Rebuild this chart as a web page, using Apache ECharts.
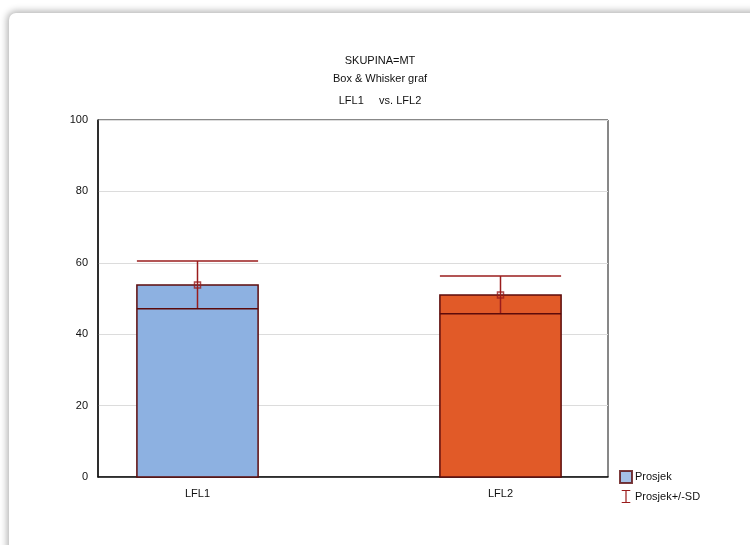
<!DOCTYPE html>
<html>
<head>
<meta charset="utf-8">
<script src="https://cdn.jsdelivr.net/npm/echarts@6/dist/echarts.min.js"></script>
<style>
html,body{margin:0;padding:0;background:#fff;width:750px;height:545px;overflow:hidden;}
#frame{position:absolute;left:9px;top:13px;width:820px;height:620px;background:#fff;border-radius:7px;box-shadow:0 0 7px 2px rgba(0,0,0,0.3);}
#chart{position:absolute;left:0;top:0;width:750px;height:545px;}
</style>
</head>
<body>
<div id="frame"></div>
<div id="chart"></div>
<script>
// ---- data ----
const categories = ['LFL1', 'LFL2'];
const means = [53.8, 51.0];
const sds = [6.7, 5.3];
const barColors = ['#8DB1E1', '#E15A28'];
const titleLines = ['SKUPINA=MT', 'Box & Whisker graf', 'LFL1     vs. LFL2'];
const legendNames = ['Prosjek', 'Prosjek+/-SD'];
const yMin = 0, yMax = 100, yStep = 20;

const positions = categories.map((c, i) => i + 1);
const BAR_UNITS = 0.4;
const FONT = 'Liberation Sans, Arial, sans-serif';
const RED = '#9a1c1c';
const BORDER = '#5c0b0b';
const TXT = '#111';

const chart = echarts.init(document.getElementById('chart'), null, {renderer: 'canvas'});

const option = {
  backgroundColor: 'transparent',
  animation: false,
  textStyle: {fontFamily: FONT},
  graphic: [
    {type: 'text', x: 380, y: 61, style: {text: titleLines[0], font: '11px ' + FONT, fill: TXT, align: 'center', verticalAlign: 'middle'}},
    {type: 'text', x: 380, y: 79, style: {text: titleLines[1], font: '11px ' + FONT, fill: TXT, align: 'center', verticalAlign: 'middle'}},
    {type: 'text', x: 380, y: 101, style: {text: titleLines[2], font: '11px ' + FONT, fill: TXT, align: 'center', verticalAlign: 'middle'}}
  ],
  grid: {left: 98, right: 142, top: 120, bottom: 68, show: true, borderColor: '#111', borderWidth: 1, backgroundColor: 'transparent'},
  legend: {
    orient: 'vertical', left: 614, top: 465, itemWidth: 12, itemHeight: 12, itemGap: 4,
    textStyle: {fontFamily: FONT, fontSize: 11, color: TXT, padding: [0, 0, 0, -2]},
    data: [
      {name: legendNames[0], icon: 'rect', itemStyle: {color: '#8DB1E1', borderColor: BORDER, borderWidth: 2}},
      {name: legendNames[1], icon: 'path://M0,0 L10,0 M5,0 L5,14 M0,14 L10,14', itemStyle: {color: 'none', borderColor: RED, borderWidth: 1.2}}
    ]
  },
  xAxis: {
    type: 'value', min: 0.6716, max: 2.3548,
    axisLine: {show: true, onZero: false, lineStyle: {color: '#111', width: 1.5}},
    axisTick: {show: true, inside: true, length: 4, customValues: positions, lineStyle: {color: '#111'}},
    axisLabel: {customValues: positions, formatter: v => categories[Math.round(v) - 1] || '', fontFamily: FONT, fontSize: 11, color: TXT, margin: 11},
    splitLine: {show: false}
  },
  yAxis: {
    type: 'value', min: yMin, max: yMax, interval: yStep,
    axisLine: {show: true, lineStyle: {color: '#111', width: 1.5}},
    axisTick: {show: false},
    axisLabel: {fontFamily: FONT, fontSize: 11, color: TXT, margin: 10},
    splitLine: {show: true, lineStyle: {color: '#dcdcdc', width: 1}}
  },
  series: [
    {
      type: 'custom', name: 'bars', z: 2,
      data: means.map((m, i) => [positions[i], m, i]),
      renderItem: function (params, api) {
        const x = api.value(0), m = api.value(1), i = api.value(2);
        const top = api.coord([x, m]);
        const base = api.coord([x, yMin]);
        const w = api.size([BAR_UNITS, 0])[0];
        return {type: 'rect', shape: {x: top[0] - w / 2, y: top[1], width: w, height: base[1] - top[1]},
          style: {fill: barColors[i], stroke: BORDER, lineWidth: 1.5}};
      }
    },
    {
      type: 'custom', name: legendNames[1], z: 3,
      data: means.map((m, i) => [positions[i], m, sds[i]]),
      renderItem: function (params, api) {
        const x = api.value(0), m = api.value(1), s = api.value(2);
        const hi = api.coord([x, m + s]);
        const lo = api.coord([x, m - s]);
        const w = api.size([BAR_UNITS, 0])[0];
        const st = {stroke: RED, lineWidth: 1.5};
        return {type: 'group', children: [
          {type: 'line', shape: {x1: hi[0], y1: hi[1], x2: lo[0], y2: lo[1]}, style: st},
          {type: 'line', shape: {x1: hi[0] - w / 2, y1: hi[1], x2: hi[0] + w / 2, y2: hi[1]}, style: st},
          {type: 'line', shape: {x1: lo[0] - w / 2, y1: lo[1], x2: lo[0] + w / 2, y2: lo[1]}, style: {stroke: BORDER, lineWidth: 1.5}}
        ]};
      }
    },
    {
      type: 'scatter', name: legendNames[0], z: 4,
      symbol: 'rect', symbolSize: 6,
      itemStyle: {color: 'rgba(255,255,255,0)', borderColor: RED, borderWidth: 1.5},
      data: means.map((m, i) => [positions[i], m])
    }
  ]
};
chart.setOption(option);
</script>
</body>
</html>
